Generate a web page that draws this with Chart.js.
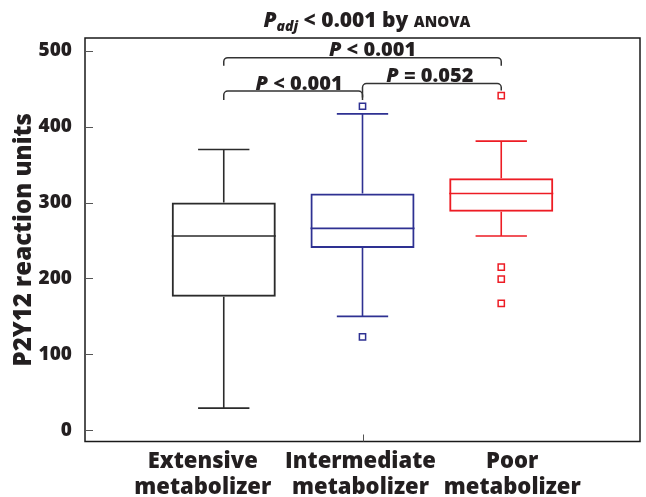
<!DOCTYPE html>
<html><head><meta charset="utf-8">
<script src="https://cdn.jsdelivr.net/npm/chart.js@4"></script>
<style>html,body{margin:0;padding:0;background:#fff;} #wrap{width:646px;height:497px;}</style>
</head><body><div id="wrap"><canvas id="c" width="646" height="497"></canvas></div>
<script>
// ---------- data ----------
const categories = [['Extensive', 'metabolizer'], ['Intermediate', 'metabolizer'], ['Poor', 'metabolizer']];
const whiskerLow  = [29, 150, 256];
const q1          = [176, 240, 288];
const median      = [256, 266, 312];
const q3          = [300, 312, 332];
const whiskerHigh = [370, 417, 381];
const outliersExtensive    = [];
const outliersIntermediate = [427, 123];
const outliersPoor         = [441, 215, 199, 167];
const yTicks = [0, 100, 200, 300, 400, 500];
const xTickMarks = [2];
// comparisons (group index 1-based), level in y units
const bracketFrom  = [1, 2, 1];
const bracketTo    = [2, 3, 3];
const bracketLevel = [447, 457, 491];
const bracketText  = ['< 0.001', '= 0.052', '< 0.001'];

// ---------- styles ----------
const FONT = "'Open Sans', sans-serif";
const TEXT = '#231f20';
const colors = ['#2b2b2b', '#2e3192', '#ed1c24'];
const CAP_W = 0.37;          // whisker cap width in x units
const labelShift = [-21, -2, 11];
const bracketDrop = [[9, 9], [14, 7], [8, 8]];
const bracketTextShift = [6, -2, 10];

function drawParts(ctx, parts, cx, baseline) {
  let total = 0;
  parts.forEach(p => { ctx.font = p.font; p.w = ctx.measureText(p.t).width; total += p.w; });
  let x = cx - total / 2;
  ctx.textAlign = 'left'; ctx.textBaseline = 'alphabetic';
  parts.forEach(p => { ctx.font = p.font; ctx.fillText(p.t, x, baseline + (p.dy || 0)); x += p.w; });
}

const boxParts = {
  id: 'boxParts',
  afterDatasetsDraw(chart) {
    const {ctx, scales: {x, y}} = chart;
    ctx.save();
    categories.forEach((c, i) => {
      const cx = x.getPixelForValue(i + 1);
      const half = x.getPixelForValue(i + 1 + CAP_W / 2) - cx;
      const bx1 = cx - (x.getPixelForValue(i + 1.375) - cx);
      const bx2 = x.getPixelForValue(i + 1.375);
      ctx.strokeStyle = colors[i];
      ctx.lineWidth = 1.6;
      ctx.beginPath();
      ctx.moveTo(cx, y.getPixelForValue(q3[i]));
      ctx.lineTo(cx, y.getPixelForValue(whiskerHigh[i]));
      ctx.moveTo(cx - half, y.getPixelForValue(whiskerHigh[i]));
      ctx.lineTo(cx + half, y.getPixelForValue(whiskerHigh[i]));
      ctx.moveTo(cx, y.getPixelForValue(q1[i]));
      ctx.lineTo(cx, y.getPixelForValue(whiskerLow[i]));
      ctx.moveTo(cx - half, y.getPixelForValue(whiskerLow[i]));
      ctx.lineTo(cx + half, y.getPixelForValue(whiskerLow[i]));
      ctx.moveTo(bx1, y.getPixelForValue(median[i]));
      ctx.lineTo(bx2, y.getPixelForValue(median[i]));
      ctx.stroke();
    });
    ctx.restore();
  },
  afterDraw(chart) {
    const {ctx, chartArea: a, scales: {x, y}} = chart;
    ctx.save();
    // frame
    ctx.strokeStyle = '#1a1a1a'; ctx.lineWidth = 1.5;
    ctx.strokeRect(a.left, a.top, a.right - a.left, a.bottom - a.top);
    // inside tick marks
    ctx.strokeStyle = '#555'; ctx.lineWidth = 1;
    ctx.beginPath();
    yTicks.forEach(v => { const py = Math.round(y.getPixelForValue(v)) + 0.5; ctx.moveTo(a.left, py); ctx.lineTo(a.left + 8, py); });
    xTickMarks.forEach(v => { const px = Math.round(x.getPixelForValue(v)) + 0.5; ctx.moveTo(px, a.bottom); ctx.lineTo(px, a.bottom - 7); });
    ctx.stroke();
    // category labels
    ctx.fillStyle = TEXT; ctx.textAlign = 'center'; ctx.textBaseline = 'alphabetic';
    ctx.font = `800 22px ${FONT}`;
    categories.forEach((c, i) => {
      const cx = x.getPixelForValue(i + 1) + labelShift[i];
      ctx.fillText(c[0], cx, a.bottom + 26);
      ctx.fillText(c[1], cx, a.bottom + 52.5);
    });
    // brackets
    ctx.strokeStyle = '#333'; ctx.lineWidth = 1.5;
    const r = 4;
    bracketFrom.forEach((f, i) => {
      const x1 = x.getPixelForValue(f), x2 = x.getPixelForValue(bracketTo[i]);
      const yl = y.getPixelForValue(bracketLevel[i]);
      ctx.beginPath();
      ctx.moveTo(x1, yl + bracketDrop[i][0]);
      ctx.lineTo(x1, yl + r);
      ctx.arcTo(x1, yl, x1 + r, yl, r);
      ctx.lineTo(x2 - r, yl);
      ctx.arcTo(x2, yl, x2, yl + r, r);
      ctx.lineTo(x2, yl + bracketDrop[i][1]);
      ctx.stroke();
      ctx.fillStyle = TEXT;
      drawParts(ctx, [
        {t: 'P', font: `italic 800 20px ${FONT}`},
        {t: ' ' + bracketText[i], font: `800 20px ${FONT}`}
      ], (x1 + x2) / 2 + bracketTextShift[i], yl - 1.5);
    });
    // title
    ctx.fillStyle = TEXT;
    drawParts(ctx, [
      {t: 'P', font: `italic 800 21px ${FONT}`},
      {t: 'adj', font: `italic 800 14px ${FONT}`, dy: 4},
      {t: ' < 0.001 by ', font: `800 21px ${FONT}`},
      {t: 'ANOVA', font: `800 15px ${FONT}`}
    ], 367, 27);
    ctx.restore();
  }
};

new Chart(document.getElementById('c'), {
  type: 'bar',
  data: {
    datasets: [
      {
        label: 'box',
        data: categories.map((c, i) => ({x: i + 1, y: [q1[i], q3[i]]})),
        backgroundColor: 'rgba(0,0,0,0)',
        borderColor: colors,
        borderWidth: 2,
        borderSkipped: false,
        categoryPercentage: 1,
        barPercentage: 0.75,
        order: 2
      },
      {type: 'scatter', label: 'out1', data: outliersExtensive.map(v => ({x: 1, y: v})),
       pointStyle: 'rect', radius: 4.4, borderWidth: 1.5, borderColor: colors[0], backgroundColor: '#fff', order: 1},
      {type: 'scatter', label: 'out2', data: outliersIntermediate.map(v => ({x: 2, y: v})),
       pointStyle: 'rect', radius: 4.4, borderWidth: 1.5, borderColor: colors[1], backgroundColor: '#fff', order: 1},
      {type: 'scatter', label: 'out3', data: outliersPoor.map(v => ({x: 3, y: v})),
       pointStyle: 'rect', radius: 4.4, borderWidth: 1.5, borderColor: colors[2], backgroundColor: '#fff', order: 1}
    ]
  },
  options: {
    responsive: false,
    animation: false,
    devicePixelRatio: 1,
    layout: {padding: {top: 38, right: 6, left: 0, bottom: 0}},
    plugins: {legend: {display: false}, tooltip: {enabled: false}, title: {display: false}},
    scales: {
      x: {
        type: 'linear', min: 0, max: 4, offset: false,
        afterBuildTicks: s => { s.ticks = []; },
        ticks: {display: false},
        grid: {display: false}, border: {display: false},
        afterFit: s => { s.height = 55.5; }
      },
      y: {
        type: 'linear', min: -15, max: 517,
        afterBuildTicks: s => { s.ticks = yTicks.map(v => ({value: v})); },
        grid: {display: false}, border: {display: false},
        ticks: {font: {family: FONT, size: 19, weight: '800'}, color: TEXT, padding: 5},
        title: {display: true, text: 'P2Y12 reaction units', color: TEXT,
                font: {family: FONT, size: 24, weight: '800'}, padding: {top: 10, bottom: 0}},
        afterFit: s => { s.width = 85; }
      }
    }
  },
  plugins: [boxParts]
});
</script>
</body></html>
